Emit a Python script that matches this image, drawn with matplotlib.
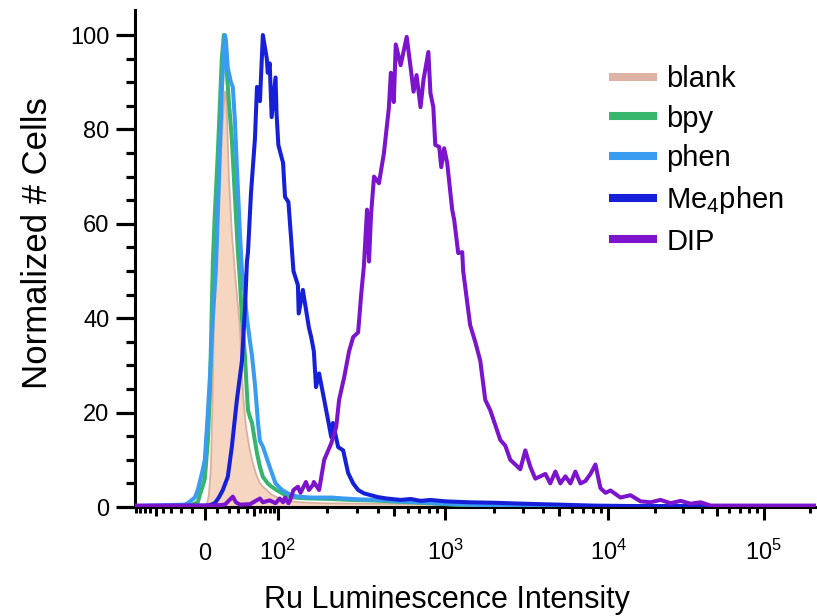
import numpy as np
import matplotlib
matplotlib.use('Agg')
import matplotlib.pyplot as plt
from matplotlib.lines import Line2D

plt.rcParams['font.family'] = ['Liberation Sans', 'DejaVu Sans']
plt.rcParams['mathtext.fontset'] = 'custom'
plt.rcParams['mathtext.rm'] = 'Liberation Sans'
plt.rcParams['mathtext.it'] = 'Liberation Sans:italic'

# histogram traces (intensity, % of max)
blank_x = [-92, 0, 1.6, 3.2, 4.8, 6.4, 7.2, 8.0, 9.7, 11.3, 13.05, 14.8, 16.6, 17.5, 18.4,
           20.3, 23.2, 26.3, 28.5, 31.9, 35.5, 39.3, 43.3, 47.7, 53.8, 60.6, 66, 73.9,
           84.7, 100, 111, 138, 183, 318, 715, 1000, 1640, 2884, 3500, 217000]
blank_y = [0, 0, 0.5, 2.5, 8, 25, 40, 48, 52, 65, 75, 82, 88, 88, 84,
           70, 58, 50, 45, 38, 24, 17, 13, 10, 7, 5, 4.3, 3.6,
           2.6, 2.0, 1.3, 1.0, 0.8, 0.7, 0.6, 0.5, 0.3, 0.1, 0, 0]

bpy_x = [-92, -12.2, -5.6, -4.0, -1.6, 0, 2.4, 4.0, 6.4, 8.0, 10.5, 12.2, 13.9, 15.7,
         17.5, 20.3, 23.2, 26.3, 29.6, 31.9, 34.3, 38, 40.6, 42, 44.8, 47.7, 52.2,
         55.5, 60.6, 66, 75.9, 84.7, 97, 108, 119.5, 138, 160, 211, 277, 364, 477,
         625, 818, 1100, 1640, 2500, 217000]
bpy_y = [0.2, 0.3, 1, 2.5, 4.5, 6, 14, 24, 52, 62, 75, 85, 95, 100,
         95, 86, 78, 66, 54, 48, 40, 32, 24, 20.5, 19, 17.8, 14,
         11.4, 8.5, 6.4, 5.0, 4.3, 3.6, 2.8, 2.1, 1.9, 1.8, 1.7, 1.5, 1.4, 1.2,
         1.0, 0.8, 0.5, 0.3, 0.2, 0.2]

phen_x = [-92, -16.6, -13.9, -8.0, -5.6, -2.4, 0, 2.4, 4.8, 6.4, 8.8, 11.3, 13.9, 15.7,
          16.6, 17.5, 19.3, 22.3, 24.2, 26.3, 28.5, 31.9, 34.3, 35.5, 40.6, 44.8, 47.7,
          52.2, 57.1, 60.6, 66, 73.9, 80.2, 94.4, 106.5, 119.5, 133, 160, 211, 252, 318,
          417, 545, 715, 1000, 1400, 2000, 3000, 217000]
phen_y = [0.2, 0.5, 0.8, 2, 3.6, 7, 10, 20, 31, 40, 50, 68, 88, 97,
          100, 99, 93, 90, 89, 82, 72, 58, 50, 49, 40, 35, 32,
          26, 18, 14, 12.8, 10.3, 8.5, 5.0, 3.6, 2.6, 2.2, 2.0, 2.0, 1.8, 1.6,
          1.5, 1.2, 1.0, 0.7, 0.5, 0.3, 0.2, 0.2]

me4_x = [-92, 0, 4.0, 8.0, 11.3, 14.8, 19.3, 23.2, 28.5, 34.3, 38, 40.6, 42, 46.2, 52.2,
         55.5, 60.6, 66, 73.9, 75.9, 80.2, 84.7, 94.4, 97, 101, 108, 111, 116.5, 125,
         133, 134.5, 142.5, 155, 160, 166, 171, 178.5, 191.5, 202, 211, 216, 232, 248.5,
         266, 285, 305, 330, 400, 450, 545, 625, 715, 818, 1000, 1400, 2000, 3000, 5000,
         8000, 15000, 217000]
me4_y = [0.2, 0.3, 0.4, 0.8, 2, 3.6, 6.4, 12.7, 22.7, 31, 42, 52, 54, 66.5, 78,
         89, 86, 100, 95, 92, 94, 82.6, 91, 83.5, 76.7, 72.9, 65.7, 64.6, 50,
         47, 41, 46, 38, 36, 33, 25.4, 28.3, 22.7, 18.4, 14.8, 17.8, 12.7, 12,
         7.2, 5, 3.6, 2.9, 2.1, 1.8, 1.5, 1.7, 1.3, 1.5, 1.2, 1.0, 0.9, 0.7, 0.5,
         0.3, 0.2, 0.2]

dip_x = [-92, 0, 6.4, 16.6, 24.2, 27.4, 31.9, 44.8, 52.2, 60.6, 66, 80.2, 94.4, 103,
         108, 111, 116.5, 119.5, 125, 133, 138, 148.7, 155, 164, 166, 178.5, 191.5,
         211, 226, 235, 252, 269.5, 285, 305, 318, 330, 344.5, 354, 364, 379, 405.5,
         434, 464, 477, 496.5, 510, 545, 592, 625, 650, 677, 715, 744, 795.5, 818, 851,
         874, 922, 948, 986, 1029, 1104, 1136, 1202, 1272, 1289, 1423, 1528, 1640,
         1760, 1888, 2026, 2175, 2334, 2504, 2688, 2884, 3096, 3323, 3565, 4108, 4400,
         4730, 5076, 5445, 5848, 6270, 6730, 7220, 7755, 8320, 8930, 9590, 10300,
         11950, 13860, 16090, 18660, 21650, 25100, 29140, 33800, 39230, 45500, 217000]
dip_y = [0.3, 0.3, 0.3, 0.5, 2.2, 1.0, 0.5, 0.6, 1.2, 1.8, 1.0, 1.4, 0.8, 1.8,
         1.0, 2.0, 0.8, 1.5, 3.6, 4.3, 3.0, 5.3, 3.6, 4.7, 5.3, 3.6, 10,
         13.5, 17, 22.7, 27.5, 33, 36, 37, 45, 51, 63, 52, 62, 70, 68.6,
         75, 84.5, 92, 85.8, 98, 93.6, 99.6, 93, 88, 91.5, 84.7, 90.5, 96.4, 87.7, 84.7,
         76.7, 76.3, 72, 76, 72.9, 63, 60.8, 53.8, 54, 50, 38.5, 35, 31,
         22.7, 20.5, 17.4, 14.2, 13, 10, 9, 8, 12, 8.5, 6, 7, 5,
         7.5, 5, 6.5, 5, 7.5, 5, 5.5, 7, 9, 4, 3, 3.5,
         2.0, 2.5, 1.2, 1.0, 1.5, 0.8, 1.3, 0.7, 1.0, 0.3, 0.3]

labels = ['blank', 'bpy', 'phen', 'Me$_4$phen', 'DIP']
colors = ['#dcb3a4', '#36b56c', '#3a9cf0', '#1520d8', '#7b14cc']

x_major = [0, 100, 1e3, 1e4, 1e5]
x_major_labels = ['0', '10$^2$', '10$^3$', '10$^4$', '10$^5$']
x_minor = ([-v for v in range(90, 0, -10)] + list(range(10, 100, 10))
           + list(range(200, 1000, 100)) + list(range(2000, 10000, 1000))
           + list(range(20000, 100000, 10000)) + [200000])
x_mid = [-50, 50, 500, 5000, 50000]

# biexponential-like display scale: asinh, anchored at the decade ticks
W = 30.0
anchor_vals = np.array([-1e6, -100, 0, 100, 1e3, 1e4, 1e5, 1e6])
anchor_pos = np.array([-2.58, -0.446, 0, 0.446, 1.472, 2.472, 3.423, 4.374])
anchor_u = np.arcsinh(anchor_vals / W)


def fwd(x):
    return np.interp(np.arcsinh(np.asarray(x, dtype=float) / W), anchor_u, anchor_pos)


def inv(p):
    return W * np.sinh(np.interp(np.asarray(p, dtype=float), anchor_pos, anchor_u))


fig = plt.figure(figsize=(8.17, 6.16), dpi=100)
ax = fig.add_axes([135 / 817, 1 - 507 / 616, 681 / 817, 497 / 616])
ax.set_xscale('function', functions=(fwd, inv))

ax.fill_between(blank_x, blank_y, color='#f6d6c0', lw=0, zorder=1)
ax.plot(blank_x, blank_y, color='#d9b0a0', lw=1.3, zorder=2)
for xs, ys, c in [(bpy_x, bpy_y, colors[1]), (phen_x, phen_y, colors[2]),
                  (me4_x, me4_y, colors[3]), (dip_x, dip_y, colors[4])]:
    ax.plot(xs, ys, color=c, lw=2.9, zorder=3)

ax.set_xlim(-92, 217000)
ax.set_ylim(0, 105.3)

for s in ['top', 'right']:
    ax.spines[s].set_visible(False)
for s in ['left', 'bottom']:
    ax.spines[s].set_linewidth(2.2)

ax.set_xticks(x_major, x_major_labels)
ax.set_xticks(x_minor, minor=True)
ax.set_yticks(range(0, 101, 20))
ax.set_yticks(range(0, 101, 5), minor=True)
ax.tick_params(axis='x', which='major', length=9.4, width=2.2, pad=28.8, labelsize=17)
ax.tick_params(axis='x', which='minor', length=4, width=2.2)
ax.tick_params(axis='y', which='major', length=13.5, width=2.3, pad=5, labelsize=17)
ax.tick_params(axis='y', which='minor', length=6.5, width=2.3)

for t in ax.xaxis.get_major_ticks():
    t.label1.set_verticalalignment('baseline')
for loc, t in zip(ax.xaxis.get_minorticklocs(), ax.xaxis.get_minor_ticks()):
    if any(abs(loc - m) < 1e-6 for m in x_mid):
        t.tick1line.set_markersize(6.5)

ax.set_xlabel('Ru Luminescence Intensity', fontsize=22)
ax.xaxis.set_label_coords(0.458, -0.187)
ax.xaxis.label.set_verticalalignment('center')
ax.set_ylabel('Normalized # Cells', fontsize=25)
ax.yaxis.set_label_coords(-0.1425, 0.531)
ax.yaxis.label.set_verticalalignment('center')

handles = [Line2D([], [], color=c, lw=5.8) for c in colors]
ax.legend(handles, labels, loc='upper left', bbox_to_anchor=(613 / 817, 1 - 65 / 616),
          bbox_transform=fig.transFigure, frameon=False, fontsize=21, borderpad=0,
          borderaxespad=0, handlelength=1.38, handletextpad=0.45, labelspacing=0.4)

fig.savefig('out.png', dpi=100)
